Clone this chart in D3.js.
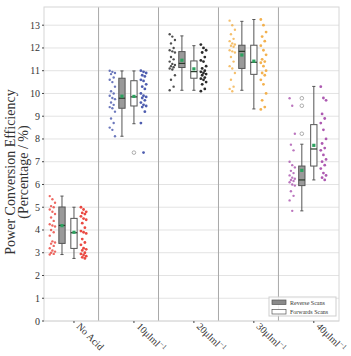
<!DOCTYPE html>
<html lang="en">
<head>
<meta charset="UTF-8">
<title>Power Conversion Efficiency</title>
<script src="https://d3js.org/d3.v7.min.js"></script>
<style>
    body { margin: 0; background: #fff; }
    svg { display: block; font-family: "Liberation Serif", "Times New Roman", serif; }
</style>
</head>
<body>
<div id="chart"></div>
<script>
    // categories and their colours
    const categories = ["No Acid", "10μlml", "20μlml", "30μlml", "40μlml"];
    const pointColors = ["#e8352d", "#3b4ba6", "#141414", "#f2a93b", "#a447a8"];

    // raw scan values
    const reversePoints = [
        [5.49, 5.35, 5.2, 5.05, 5.0, 4.9, 4.8, 4.7, 4.55, 4.4, 4.25, 4.2, 4.15, 4.0, 3.9, 3.75, 3.5, 3.45, 3.4, 3.3, 3.2, 3.1, 3.05, 3.0, 2.95, 2.92],
        [11.0, 10.95, 10.9, 10.85, 10.7, 10.6, 10.5, 10.3, 10.1, 10.0, 9.9, 9.8, 9.75, 9.6, 9.5, 9.4, 9.35, 9.2, 8.9, 8.7, 8.5, 8.4, 8.12],
        [12.6, 12.5, 12.35, 12.2, 12.0, 11.9, 11.85, 11.8, 11.6, 11.5, 11.4, 11.3, 11.25, 11.2, 11.15, 11.1, 11.05, 10.8, 10.6, 10.3, 10.14],
        [13.2, 13.0, 12.8, 12.6, 12.4, 12.3, 12.2, 12.15, 12.1, 12.05, 11.9, 11.85, 11.8, 11.6, 11.4, 11.2, 11.1, 10.9, 10.6, 10.3, 10.2, 10.1],
        [9.79, 9.46, 8.23, 7.75, 7.5, 7.0, 6.85, 6.75, 6.6, 6.5, 6.4, 6.3, 6.25, 6.2, 6.15, 6.1, 6.0, 5.95, 5.7, 5.5, 5.3, 4.84]
    ];
    const forwardPoints = [
        [5.0, 4.9, 4.8, 4.75, 4.7, 4.6, 4.5, 4.45, 4.3, 4.1, 3.95, 3.9, 3.85, 3.6, 3.45, 3.35, 3.2, 3.15, 3.1, 3.0, 2.95, 2.9, 2.85, 2.8, 2.75],
        [11.0, 10.95, 10.9, 10.8, 10.75, 10.6, 10.55, 10.4, 10.3, 10.2, 10.0, 9.9, 9.85, 9.8, 9.7, 9.6, 9.5, 9.45, 9.4, 9.2, 8.7, 7.4],
        [12.15, 12.0, 11.9, 11.8, 11.6, 11.45, 11.4, 11.2, 11.1, 11.0, 10.95, 10.9, 10.85, 10.8, 10.7, 10.65, 10.6, 10.5, 10.4, 10.2, 10.1],
        [13.25, 13.0, 12.7, 12.5, 12.3, 12.1, 11.9, 11.7, 11.5, 11.4, 11.35, 11.2, 11.0, 10.9, 10.8, 10.6, 10.4, 10.0, 9.7, 9.4, 9.3],
        [10.3, 9.8, 9.7, 9.1, 8.9, 8.7, 8.4, 8.0, 7.8, 7.6, 7.5, 7.3, 7.1, 7.0, 6.85, 6.7, 6.5, 6.4, 6.3, 6.2]
    ];

    // box stats: [whisker low, q1, median, q3, whisker high, mean]
    const reverseStats = [
        [2.92, 3.41, 4.2, 5.01, 5.49, 4.19],
        [8.12, 9.35, 9.79, 10.67, 10.99, 9.88],
        [10.14, 11.14, 11.32, 11.84, 12.53, 11.46],
        [10.14, 11.1, 11.85, 12.12, 13.17, 11.69],
        [4.84, 5.95, 6.2, 6.81, 7.77, 6.62]
    ];
    const forwardStats = [
        [2.75, 3.19, 3.88, 4.51, 5.0, 3.9],
        [8.67, 9.45, 9.85, 10.56, 10.99, 9.87],
        [10.14, 10.67, 10.96, 11.43, 12.1, 11.08],
        [9.32, 10.84, 11.37, 12.12, 13.25, 11.42],
        [6.2, 6.81, 7.56, 8.63, 10.31, 7.72]
    ];
    const reverseOutliers = [[], [], [], [], [9.79, 9.46, 8.23]];
    const forwardOutliers = [[], [7.4], [], [], []];

    const yTicks = d3.range(0, 14);

    const width = 351, height = 356;
    const margin = { top: 7, right: 12, bottom: 35, left: 44 };

    const svg = d3.select("#chart").append("svg")
        .attr("width", width)
        .attr("height", height);

    const x = d3.scaleLinear().domain([-0.5, 4.42]).range([margin.left, width - margin.right]);
    const y = d3.scaleLinear().domain([0, 13.8]).range([height - margin.bottom, margin.top]);

    const x0 = x.range()[0], x1 = x.range()[1], y0 = y.range()[0], y1 = y.range()[1];

    // grid
    svg.append("g").selectAll("line")
        .data(yTicks)
        .join("line")
        .attr("x1", x0).attr("x2", x1)
        .attr("y1", d => y(d)).attr("y2", d => y(d))
        .attr("stroke", "#e3e3e3")
        .attr("stroke-width", 1);

    // category separators
    svg.append("g").selectAll("line")
        .data(d3.range(0, 4))
        .join("line")
        .attr("x1", d => x(d + 0.41)).attr("x2", d => x(d + 0.41))
        .attr("y1", y0).attr("y2", y1)
        .attr("stroke", "#a8a8a8")
        .attr("stroke-width", 1);

    // frame
    svg.append("rect")
        .attr("x", x0).attr("y", y1)
        .attr("width", x1 - x0).attr("height", y0 - y1)
        .attr("fill", "none")
        .attr("stroke", "#d6d6d6");

    // y axis
    const yAxis = svg.append("g");
    yAxis.selectAll("line")
        .data(yTicks)
        .join("line")
        .attr("x1", x0 - 2).attr("x2", x0)
        .attr("y1", d => y(d)).attr("y2", d => y(d))
        .attr("stroke", "#444");
    yAxis.selectAll("text")
        .data(yTicks)
        .join("text")
        .attr("x", x0 - 4)
        .attr("y", d => y(d))
        .attr("dy", "0.35em")
        .attr("text-anchor", "end")
        .attr("font-size", 10)
        .attr("fill", "#333")
        .text(d => d);

    // x ticks and rotated labels
    const xAxis = svg.append("g");
    xAxis.selectAll("line")
        .data(categories)
        .join("line")
        .attr("x1", (d, i) => x(i)).attr("x2", (d, i) => x(i))
        .attr("y1", y0).attr("y2", y0 + 2)
        .attr("stroke", "#444");
    const lbl = xAxis.selectAll("text")
        .data(categories)
        .join("text")
        .attr("transform", (d, i) => `translate(${x(i) + 2},${y0 + 6}) rotate(45)`)
        .attr("font-size", 10)
        .attr("fill", "#333");
    lbl.append("tspan").text(d => d);
    lbl.filter((d, i) => i > 0).append("tspan")
        .attr("dy", -4)
        .attr("font-size", 7)
        .attr("fill", "#333")
        .text("−1");

    // y label
    const yl = svg.append("text")
        .attr("transform", `translate(15,172) rotate(-90)`)
        .attr("text-anchor", "middle")
        .attr("font-size", 14)
        .attr("fill", "#333");
    yl.append("tspan").attr("x", 0).attr("dy", 0).text("Power Conversion Efficiency");
    yl.append("tspan").attr("x", 0).attr("dy", 13).text("(Percentage / %)");

    const boxW = 0.105;
    const spread = i => ((i * 7) % 5 - 2) * 0.022;

    function drawBoxes(stats, offset, fill, outliers) {
        const g = svg.append("g");
        stats.forEach((s, i) => {
            const cx = x(i + offset);
            const hw = (x(boxW) - x(0)) / 2;
            const [lo, q1, med, q3, hi, mean] = s;
            g.append("line").attr("x1", cx).attr("x2", cx).attr("y1", y(hi)).attr("y2", y(q3)).attr("stroke", "#555");
            g.append("line").attr("x1", cx).attr("x2", cx).attr("y1", y(q1)).attr("y2", y(lo)).attr("stroke", "#555");
            [lo, hi].forEach(v => {
                g.append("line").attr("x1", cx - hw * 0.5).attr("x2", cx + hw * 0.5)
                    .attr("y1", y(v)).attr("y2", y(v)).attr("stroke", "#555");
            });
            g.append("rect")
                .attr("x", cx - hw).attr("y", y(q3))
                .attr("width", hw * 2).attr("height", y(q1) - y(q3))
                .attr("fill", fill).attr("stroke", "#555");
            g.append("line").attr("x1", cx - hw).attr("x2", cx + hw)
                .attr("y1", y(med)).attr("y2", y(med)).attr("stroke", "#2a3a2a").attr("stroke-width", 1.2);
            g.append("rect")
                .attr("x", cx - 1.6).attr("y", y(mean) - 1.6)
                .attr("width", 3.2).attr("height", 3.2)
                .attr("fill", "#2ca25f");
            outliers[i].forEach(v => {
                g.append("circle").attr("cx", cx).attr("cy", y(v)).attr("r", 1.8)
                    .attr("fill", "none").attr("stroke", "#999").attr("stroke-width", 0.8);
            });
        });
    }

    function drawPoints(points, offset, r, opacity) {
        const g = svg.append("g");
        points.forEach((vals, i) => {
            g.selectAll(null)
                .data(vals)
                .join("circle")
                .attr("cx", (d, j) => x(i + offset + spread(j)))
                .attr("cy", d => y(d))
                .attr("r", r)
                .attr("fill", pointColors[i])
                .attr("opacity", opacity);
        });
    }

    drawPoints(reversePoints, -0.36, 1.2, 0.75);
    drawPoints(forwardPoints, 0.16, 1.4, 0.9);
    drawBoxes(reverseStats, -0.2, "#9a9a9a", reverseOutliers);
    drawBoxes(forwardStats, 0, "#ffffff", forwardOutliers);

    // legend
    const lg = svg.append("g").attr("transform", "translate(269,297)");
    lg.append("rect").attr("width", 67).attr("height", 19)
        .attr("fill", "#fff").attr("fill-opacity", 0.85).attr("stroke", "#cfcfcf");
    const legendItems = [["Reverse Scans", "#8a8a8a"], ["Forwards Scans", "#ffffff"]];
    legendItems.forEach(([name, fill], i) => {
        lg.append("rect").attr("x", 3).attr("y", 3 + i * 9.5)
            .attr("width", 14).attr("height", 4.5)
            .attr("fill", fill).attr("stroke", "#555").attr("stroke-width", 0.7);
        lg.append("text").attr("x", 21).attr("y", 5.5 + i * 9.5)
            .attr("dy", "0.35em")
            .attr("font-size", 6)
            .attr("fill", "#333")
            .text(name);
    });
</script>
</body>
</html>
